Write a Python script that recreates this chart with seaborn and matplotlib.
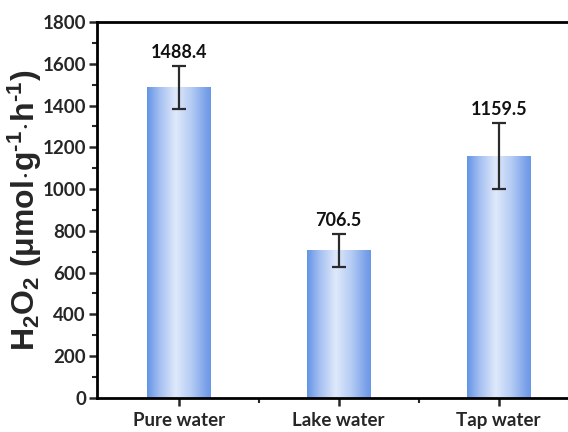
import numpy as np
import pandas as pd
import matplotlib
matplotlib.use("Agg")
import matplotlib.pyplot as plt
from matplotlib.colors import LinearSegmentedColormap
from matplotlib.ticker import MultipleLocator, FixedLocator
import seaborn as sns

# H2O2 production in different water sources
categories = ["Pure water", "Lake water", "Tap water"]
rates = [1488.4, 706.5, 1159.5]
errors = [103, 80, 157]

sns.set_style("ticks")
plt.rcParams["font.family"] = ["Lato", "DejaVu Sans"]
plt.rcParams["mathtext.fontset"] = "custom"
plt.rcParams["mathtext.rm"] = "Liberation Sans:bold"
plt.rcParams["mathtext.bf"] = "Liberation Sans:bold"
plt.rcParams["mathtext.it"] = "Liberation Sans:bold"

df = pd.DataFrame({"sample": categories, "rate": rates})

fig = plt.figure(figsize=(5.68, 4.32), dpi=100)
ax = fig.add_axes([0.171, 0.079, 0.845, 0.870])

sns.barplot(data=df, x="sample", y="rate", order=categories, width=0.4,
            errorbar=None, color="#7fa6ea", ax=ax, zorder=2)

# horizontal gradient fill for each bar
grad_cmap = LinearSegmentedColormap.from_list(
    "bar_grad",
    [(0.0, "#6494e6"), (0.2, "#a4c0f1"), (0.45, "#dfe9fb"),
     (0.7, "#b4cbf3"), (0.92, "#7ba2ea"), (1.0, "#6a98e6")])
grad = np.linspace(0, 1, 256).reshape(1, -1)
for patch in ax.patches:
    x0, y0 = patch.get_x(), patch.get_y()
    w, h = patch.get_width(), patch.get_height()
    patch.set_facecolor("none")
    patch.set_edgecolor("none")
    im = ax.imshow(grad, cmap=grad_cmap, aspect="auto",
                   extent=(x0, x0 + w, y0, y0 + h), zorder=2,
                   interpolation="bicubic")
    im.set_clip_path(patch)

xpos = np.arange(len(categories))
ax.errorbar(xpos, rates, yerr=errors, fmt="none", ecolor="#2b2b2b",
            elinewidth=1.6, capsize=5, capthick=1.6, zorder=3)

for x, v, e in zip(xpos, rates, errors):
    ax.text(x, v + e + 22, f"{v:.1f}", ha="center", va="bottom",
            fontsize=13, fontweight="bold", color="#111111")

ax.set_xlim(-0.51, 2.49)
ax.set_ylim(0, 1800)
ax.yaxis.set_major_locator(MultipleLocator(200))
ax.yaxis.set_minor_locator(MultipleLocator(100))
ax.xaxis.set_minor_locator(FixedLocator([0.5, 1.5]))

ax.set_xlabel("")
ax.set_ylabel(r"H$_2$O$_2$ ($\mathbf{\mu}$mol$\cdot$g$^{\text{-}1}$$\cdot$h$^{\text{-}1}$)",
              fontsize=23, fontweight="bold", family="Liberation Sans",
              labelpad=-1)

for side in ["left", "bottom", "top"]:
    ax.spines[side].set_visible(True)
    ax.spines[side].set_linewidth(2)
    ax.spines[side].set_color("black")
ax.spines["right"].set_visible(False)

ax.tick_params(axis="both", which="major", direction="out", length=6,
               width=1.8, labelsize=13.5)
ax.tick_params(axis="both", which="minor", direction="out", length=3.5,
               width=1.5)
ax.tick_params(axis="x", pad=4)
ax.tick_params(axis="y", pad=2)
for lab in ax.get_xticklabels() + ax.get_yticklabels():
    lab.set_fontweight("bold")

fig.savefig("out.png", dpi=100)
